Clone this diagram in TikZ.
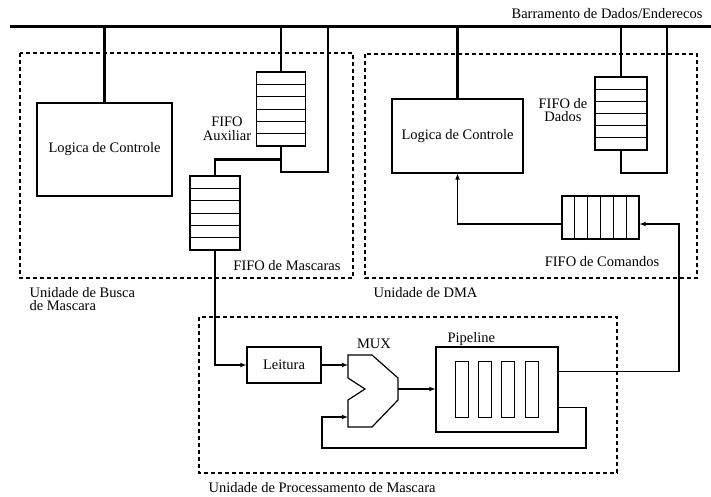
\documentclass[tikz,border=0pt]{standalone}
\usepackage{fontspec}
\setmainfont{Liberation Serif}
\usetikzlibrary{arrows,positioning}
\tikzstyle{box} = [draw, line width=1.2pt, inner sep=0pt]
\tikzstyle{grp} = [line width=1.4pt, dash pattern=on 4pt off 3pt]
\tikzstyle{wire} = [draw, line width=1.1pt]
\tikzstyle{link} = [draw, line width=2.3pt]

\begin{document}
\begin{tikzpicture}[x=1pt, y=-1pt, >=latex, font=\fontsize{14.5}{13.5}\selectfont]
	\useasboundingbox (0,0) rectangle (711,496);
	%Barramento
	\coordinate (busL) at (10,26);
	\coordinate (busR) at (711,26);
	\draw[line width=3pt] (busL) -- (busR);
	\node[anchor=east] (busLbl) at (706,14) {Barramento de Dados/Enderecos};
	%Unidades
	\draw[grp] (20,53) rectangle (353,278);
	\draw[grp] (365,54) rectangle (697,278);
	\draw[grp] (199,317) rectangle (617,473);
	\node[align=left, anchor=west] (buscaLbl) at (26,299) {Unidade de Busca\\de Mascara};
	\node[anchor=west] (dmaLbl) at (370,293) {Unidade de DMA};
	\node[anchor=west] (procLbl) at (205,488) {Unidade de Processamento de Mascara};
	%Busca de Mascara
	\node[box, minimum width=135pt, minimum height=93pt] (ctrlA) at (104.5,149.5) {Logica de Controle};
	\node[box, minimum width=49pt, minimum height=74pt] (fifoAux) at (281,109) {};
	\node[box, minimum width=50pt, minimum height=74pt] (fifoMsk) at (215,213) {};
	\draw[line width=1pt] (256.5,84.3) -- (305.5,84.3);
	\draw[line width=1pt] (256.5,96.7) -- (305.5,96.7);
	\draw[line width=1pt] (256.5,109) -- (305.5,109);
	\draw[line width=1pt] (256.5,121.3) -- (305.5,121.3);
	\draw[line width=1pt] (256.5,133.7) -- (305.5,133.7);
	\draw[line width=1pt] (190,188.3) -- (240,188.3);
	\draw[line width=1pt] (190,200.7) -- (240,200.7);
	\draw[line width=1pt] (190,213) -- (240,213);
	\draw[line width=1pt] (190,225.3) -- (240,225.3);
	\draw[line width=1pt] (190,237.7) -- (240,237.7);
	\node[align=center] (auxLbl) at (227,129) {FIFO\\Auxiliar};
	\node (mskLbl) at (287,266) {FIFO de Mascaras};
	\coordinate (auxR) at (328,172);
	\draw[link] (ctrlA.north) -- (ctrlA.north |- busL);
	\draw[link] (fifoAux.north) -- (fifoAux.north |- busL);
	\draw[link] (fifoAux.south) |- (auxR) -- (auxR |- busL);
	\draw[link] (fifoAux.south) ++(0,13) -| (fifoMsk.north);
	%DMA
	\node[box, minimum width=131pt, minimum height=74pt] (ctrlB) at (457.5,136) {Logica de Controle};
	\node[box, minimum width=52pt, minimum height=73pt] (fifoDad) at (621,113.5) {};
	\node[box, minimum width=77pt, minimum height=43pt] (fifoCmd) at (600.5,217.5) {};
	\draw[line width=1pt] (595,89.2) -- (647,89.2);
	\draw[line width=1pt] (595,101.3) -- (647,101.3);
	\draw[line width=1pt] (595,113.5) -- (647,113.5);
	\draw[line width=1pt] (595,125.7) -- (647,125.7);
	\draw[line width=1pt] (595,137.8) -- (647,137.8);
	\draw[line width=1pt] (574.8,196) -- (574.8,239);
	\draw[line width=1pt] (587.7,196) -- (587.7,239);
	\draw[line width=1pt] (600.5,196) -- (600.5,239);
	\draw[line width=1pt] (613.3,196) -- (613.3,239);
	\draw[line width=1pt] (626.2,196) -- (626.2,239);
	\node[align=center] (dadLbl) at (563,110) {FIFO de\\Dados};
	\node (cmdLbl) at (602,262) {FIFO de Comandos};
	\coordinate (dadR) at (667,173);
	\draw[link] (ctrlB.north) -- (ctrlB.north |- busL);
	\draw[link] (fifoDad.north) -- (fifoDad.north |- busL);
	\draw[link] (fifoDad.south) |- (dadR) -- (dadR |- busL);
	\coordinate (cmdOut) at ([yshift=-6.5pt]fifoCmd.west);
	\coordinate (cmdIn) at ([yshift=-6.5pt]fifoCmd.east);
	\draw[wire, ->] (cmdOut) -| (ctrlB.south);
	%Processamento
	\node[box, minimum width=74pt, minimum height=36pt] (leit) at (284,365) {Leitura};
	\node[box, minimum width=122pt, minimum height=85pt] (pipe) at (497,389.5) {};
	\node[anchor=base west] (pipeLbl) at (444,342) {Pipeline};
	\draw[line width=1pt] (455,361) rectangle (468,417);
	\draw[line width=1pt] (478,361) rectangle (491,417);
	\draw[line width=1pt] (501,361) rectangle (514,417);
	\draw[line width=1pt] (525,361) rectangle (538,417);
	\coordinate (mux) at (373,391);
	\draw[line width=1.2pt] (mux) ++(-25,-36) -- ++(24,0) -- ++(26,23) -- ++(0,22) -- ++(-26,27) -- ++(-24,0) -- ++(0,-27) -- ++(17,-11) -- ++(-17,-11) -- cycle;
	\node (muxLbl) at (374,344) {MUX};
	\coordinate (muxA) at (348,365);
	\coordinate (muxB) at (348,417);
	\coordinate (muxO) at (398,389);
	\coordinate (fbR) at (586,448);
	\coordinate (fbL) at (322,448);
	\coordinate (rBend) at (679,300);
	\draw[wire, ->] (fifoMsk.south) |- (leit.west);
	\draw[wire, ->] (leit.east) -- (muxA);
	\draw[wire, ->] (muxO) -- (muxO -| pipe.west);
	\draw[wire, ->] ([yshift=-18pt]pipe.east) -| (fbR) -- (fbL) |- (muxB);
	\draw[wire, ->] ([yshift=18pt]pipe.east) -| (rBend) |- (cmdIn);
\end{tikzpicture}
\end{document}
